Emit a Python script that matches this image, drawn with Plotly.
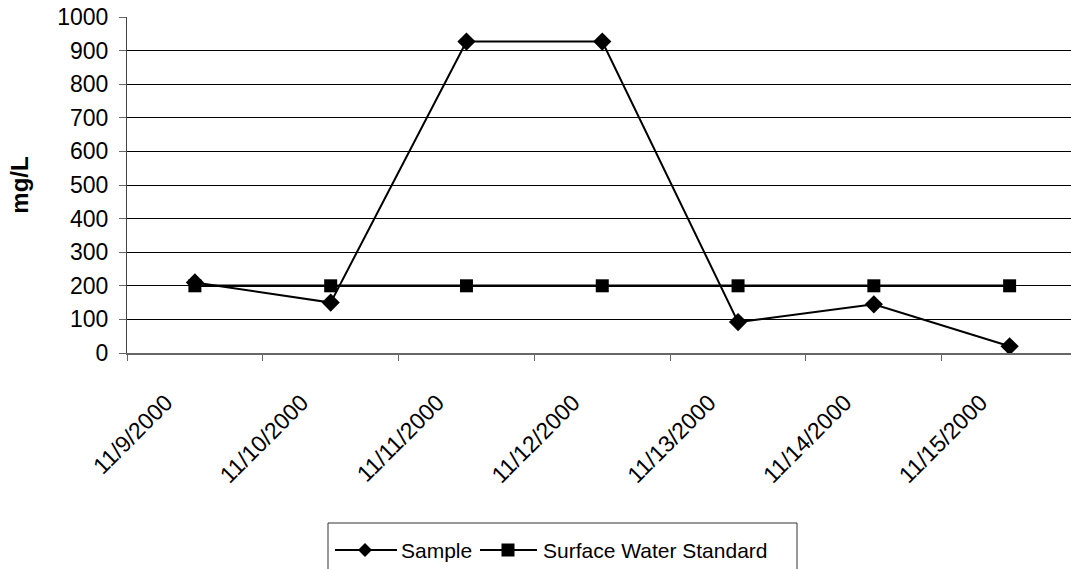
import plotly.graph_objects as go

# Daily sampling dates and measured concentrations (mg/L)
dates = ["11/9/2000", "11/10/2000", "11/11/2000", "11/12/2000",
         "11/13/2000", "11/14/2000", "11/15/2000"]
sample = [210, 150, 927, 927, 92, 145, 20]
standard = [200, 200, 200, 200, 200, 200, 200]
series_names = ["Sample", "Surface Water Standard"]

FONT = "Liberation Sans, Arial, sans-serif"
W, H = 1071, 569
ML, MR, MT, MB = 127, 0, 17, 216
PW, PH = W - ML - MR, H - MT - MB


def px(x):
    """Horizontal pixel position -> paper coordinate."""
    return (x - ML) / PW


def py(y):
    """Vertical pixel position (from top) -> paper coordinate."""
    return (H - MB - y) / PH


fig = go.Figure()
fig.add_trace(go.Scatter(
    x=dates, y=sample, name=series_names[0], mode="lines+markers",
    line=dict(color="black", width=2),
    marker=dict(symbol="diamond", size=14, color="black"),
    showlegend=False,
))
fig.add_trace(go.Scatter(
    x=dates, y=standard, name=series_names[1], mode="lines+markers",
    line=dict(color="black", width=2.5),
    marker=dict(symbol="square", size=13, color="black"),
    showlegend=False,
))

# Legend drawn as a framed key under the plot with long sample lines
shapes = [dict(type="rect", xref="paper", yref="paper",
               x0=px(328), x1=px(797), y0=py(523), y1=py(600),
               line=dict(color="#333", width=1), fillcolor="white", layer="above")]
annotations = []
key_y = 550
keys = [
    dict(line=(335, 397), cx=365, text_x=399, symbol="diamond"),
    dict(line=(480, 537), cx=508, text_x=541, symbol="square"),
]
for name, k in zip(series_names, keys):
    shapes.append(dict(type="line", xref="paper", yref="paper",
                       x0=px(k["line"][0]), x1=px(k["line"][1]),
                       y0=py(key_y), y1=py(key_y),
                       line=dict(color="black", width=2), layer="above"))
    c = k["cx"]
    if k["symbol"] == "diamond":
        r = 7
        path = (f"M {px(c - r)},{py(key_y)} L {px(c)},{py(key_y - r)} "
                f"L {px(c + r)},{py(key_y)} L {px(c)},{py(key_y + r)} Z")
        shapes.append(dict(type="path", xref="paper", yref="paper", path=path,
                           fillcolor="black", line=dict(color="black", width=0),
                           layer="above"))
    else:
        r = 6.5
        shapes.append(dict(type="rect", xref="paper", yref="paper",
                           x0=px(c - r), x1=px(c + r),
                           y0=py(key_y + r), y1=py(key_y - r),
                           fillcolor="black", line=dict(color="black", width=0),
                           layer="above"))
    annotations.append(dict(xref="paper", yref="paper",
                            x=px(k["text_x"]), y=py(key_y),
                            xanchor="left", yanchor="middle", showarrow=False,
                            text=name, font=dict(family=FONT, size=21, color="black")))

fig.update_layout(
    width=W, height=H,
    margin=dict(l=ML, r=MR, t=MT, b=MB, autoexpand=False),
    paper_bgcolor="white", plot_bgcolor="white",
    font=dict(family=FONT, size=22, color="black"),
    showlegend=False,
    shapes=shapes,
    annotations=annotations,
)

fig.update_xaxes(
    type="category", range=[-0.5, 6.452],
    tickangle=-45, tickson="boundaries",
    ticks="outside", ticklen=6, tickcolor="#666",
    ticklabelshift=-29, ticklabelstandoff=25,
    showline=True, linecolor="#666", linewidth=2,
    showgrid=False, zeroline=False,
    tickfont=dict(family=FONT, size=23, color="black"),
)
fig.update_yaxes(
    range=[0, 1000], dtick=100, tick0=0,
    ticks="outside", ticklen=7, tickcolor="#666",
    ticklabelstandoff=6,
    showline=True, linecolor="#444", linewidth=1,
    showgrid=True, gridcolor="black", gridwidth=1,
    zeroline=False,
    tickfont=dict(family=FONT, size=23, color="black"),
    title=dict(text="<b>mg/L</b>", font=dict(family=FONT, size=24, color="black"), standoff=21),
)

fig.write_html("out.html")
